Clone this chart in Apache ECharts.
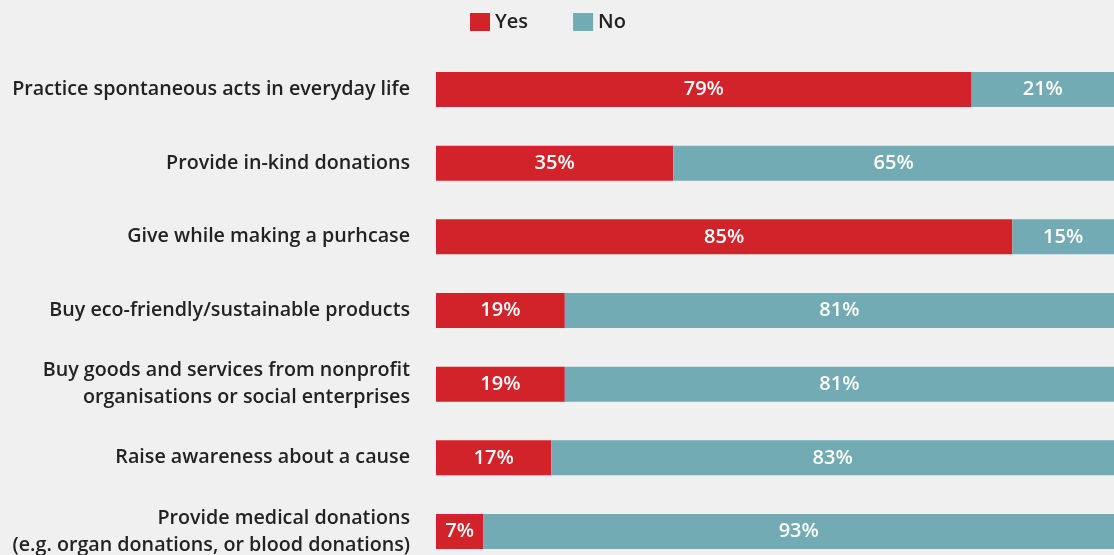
<!DOCTYPE html>
<html><head><meta charset="utf-8">
<script src="https://cdn.jsdelivr.net/npm/echarts@6/dist/echarts.min.js"></script>
<style>html,body{margin:0;padding:0;background:#f0f0f0}#c{width:1114px;height:555px}</style>
</head><body><div id="c"></div>
<script>
const categories = [
  "Practice spontaneous acts in everyday life",
  "Provide in-kind donations",
  "Give while making a purhcase",
  "Buy eco-friendly/sustainable products",
  "Buy goods and services from nonprofit\norganisations or social enterprises",
  "Raise awareness about a cause",
  "Provide medical donations\n(e.g. organ donations, or blood donations)"
];
const yesValues = [79, 35, 85, 19, 19, 17, 7];
const noValues = [21, 65, 15, 81, 81, 83, 93];

const font = "Open Sans";
const chart = echarts.init(document.getElementById('c'));
const labelStyle = {show: true, position: 'inside', formatter: '{c}%', color: '#fff', fontFamily: font, fontSize: 20, fontWeight: 600};
chart.setOption({
  backgroundColor: '#f0f0f0',
  animation: false,
  legend: {
    top: 7, left: 465,
    itemWidth: 20, itemHeight: 18, itemGap: 45,
    icon: 'rect',
    textStyle: {fontFamily: font, fontSize: 20, fontWeight: 600, color: '#222'},
    data: ['Yes', 'No']
  },
  grid: {left: 436, right: 0, top: 89.5, height: 442, outerBoundsMode: 'none', containLabel: false},
  xAxis: {type: 'value', min: 0, max: 100, show: false},
  yAxis: {
    type: 'category', inverse: true, data: categories, boundaryGap: false,
    axisLine: {show: false}, axisTick: {show: false}, splitLine: {show: false},
    axisLabel: {fontFamily: font, fontSize: 19.7, fontWeight: 600, color: '#222', margin: 26, align: 'right', lineHeight: 27}
  },
  series: [
    {name: 'Yes', type: 'bar', stack: 't', data: yesValues, barWidth: 35, clip: false,
     itemStyle: {color: '#d3232a'}, label: labelStyle},
    {name: 'No', type: 'bar', stack: 't', data: noValues, barWidth: 35, clip: false,
     itemStyle: {color: '#72abb3'}, label: labelStyle}
  ]
});
</script></body></html>
